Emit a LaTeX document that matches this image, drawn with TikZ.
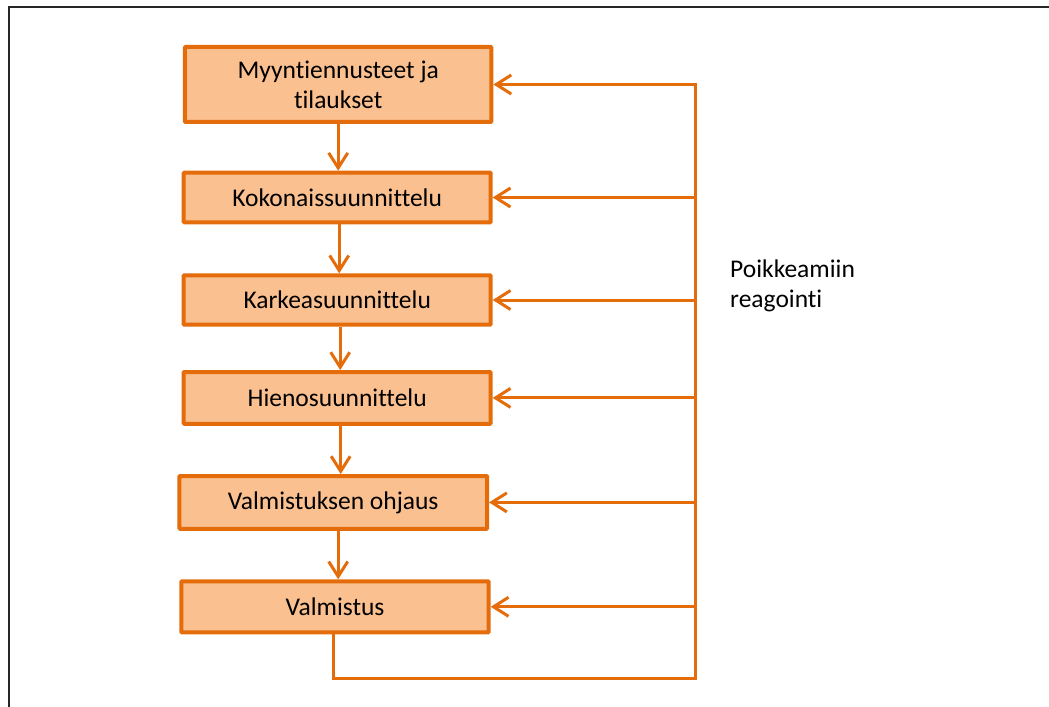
\documentclass[tikz,border=0pt]{standalone}
\usepackage{fontspec}
\setmainfont{Carlito}[Ligatures={NoCommon}]
\usetikzlibrary{arrows.meta}
\definecolor{ordark}{HTML}{E46C0A}
\definecolor{orfill}{HTML}{FAC090}
\definecolor{framecol}{HTML}{262626}
\tikzset{
  box/.style={draw=ordark, fill=orfill, line width=4bp, rectangle, rounded corners=0.8bp,
    align=center, inner sep=0pt, font=\fontsize{25.5bp}{30bp}\selectfont, text=black},
  arr/.style={draw=ordark, line width=3bp, -{Straight Barb[length=15bp,width=19bp,line width=3bp]}},
  lbl/.style={align=left, inner sep=0pt, font=\fontsize{25.5bp}{30bp}\selectfont, text=black}
}
\begin{document}
\begin{tikzpicture}[x=1bp,y=-1bp]
\useasboundingbox (0,0) rectangle (1049,707);
\fill[white] (0,0) rectangle (1049,707);
\draw[framecol, line width=1.6bp] (9,707) -- (9,6.8) -- (1049,6.8);

\node[box, minimum width=306.5bp, minimum height=75bp] (b1) at (338.2,84.5) {Myyntiennusteet ja\\tilaukset};
\node[box, minimum width=307bp, minimum height=49.6bp] (b2) at (337.2,197.5) {Kokonaissuunnittelu};
\node[box, minimum width=307bp, minimum height=49.4bp] (b3) at (337.2,300) {Karkeasuunnittelu};
\node[box, minimum width=307bp, minimum height=51.7bp] (b4) at (337.2,397.9) {Hienosuunnittelu};
\node[box, minimum width=307.7bp, minimum height=52.7bp] (b5) at (333.2,502.4) {Valmistuksen ohjaus};
\node[box, minimum width=307.4bp, minimum height=51bp] (b6) at (335,606.8) {Valmistus};

\node[lbl, anchor=base west] (pr) at (730,307) {Poikkeamiin\\reagointi};

\draw[arr] (b1.south) -- (b1.south |- b2.north);
\draw[arr] ([xshift=2bp]b2.south) -- ([xshift=2bp]b2.south |- b3.north);
\draw[arr] ([xshift=3bp]b3.south) -- ([xshift=3bp]b3.south |- b4.north);
\draw[arr] ([xshift=3.5bp]b4.south) -- ([xshift=3.5bp]b4.south |- b5.north);
\draw[arr] ([xshift=5bp]b5.south) -- ([xshift=5bp]b5.south |- b6.north);

\coordinate (rb) at (695,678.5);
\draw[arr, line join=miter] ([xshift=-2bp]b6.south) |- (rb) |- (b1.east);
\draw[arr] (b2.east -| rb) -- (b2.east);
\draw[arr] (b3.east -| rb) -- (b3.east);
\draw[arr] (b4.east -| rb) -- (b4.east);
\draw[arr] (b5.east -| rb) -- (b5.east);
\draw[arr] (b6.east -| rb) -- (b6.east);
\end{tikzpicture}
\end{document}
